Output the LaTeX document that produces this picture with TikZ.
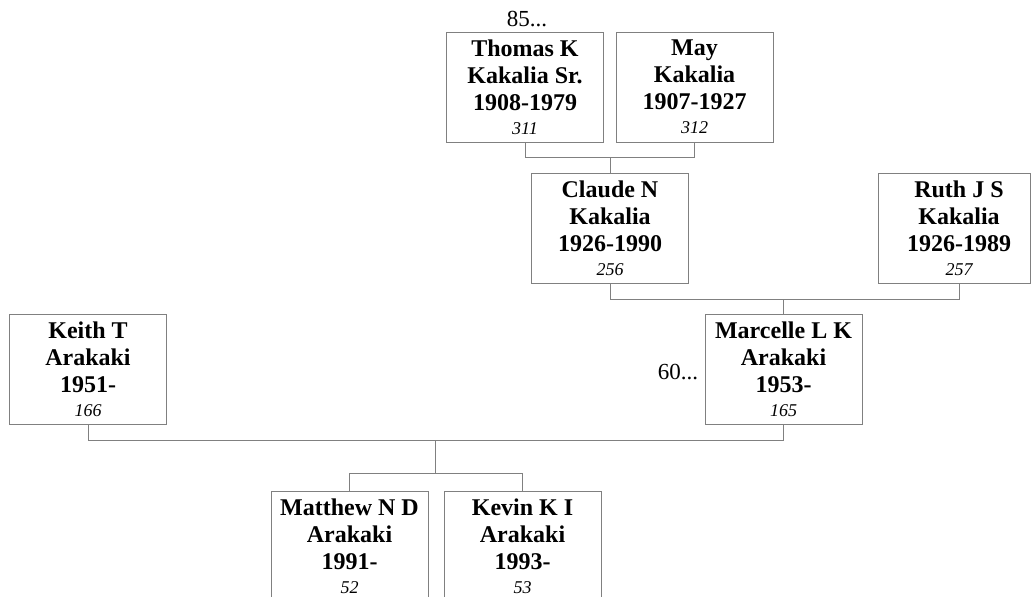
\documentclass[tikz,border=0pt]{standalone}
\usepackage{fontspec}
\setmainfont{Liberation Serif}
\usetikzlibrary{calc}
\newcommand\perstext[4]{#1\\#2\\#3\\[-3pt]{\fontsize{18}{22}\selectfont\mdseries\itshape #4}}
\tikzset{
  pbox/.style={draw=black!50, line width=1pt, minimum width=157, minimum height=110, inner sep=0pt, align=center, font=\fontsize{24}{27}\selectfont\bfseries},
  ptext/.style={inner sep=0pt, align=center, font=\fontsize{24}{27}\selectfont\bfseries},
  link/.style={draw=black!50, line width=1pt},
  more/.style={inner sep=0pt, font=\fontsize{23}{26}\selectfont}
}
\begin{document}
\begin{tikzpicture}[x=1pt,y=-1pt]
\useasboundingbox (0,0) rectangle (1031,597);
\node[pbox] (tho) at (525,87) {\perstext{Thomas K}{Kakalia Sr.}{1908-1979}{311}};
\node[pbox] (may) at (694.5,87) {\perstext{May}{Kakalia}{1907-1927}{312}};
\node[pbox] (cla) at (610,228) {\perstext{Claude N}{Kakalia}{1926-1990}{256}};
\node[pbox, minimum width=152] (rut) at (954,228) {};
\node[ptext] (ruttext) at ($(rut.center)+(5,0)$) {\perstext{Ruth J S}{Kakalia}{1926-1989}{257}};
\node[pbox] (kei) at (88,369.5) {\perstext{Keith T}{Arakaki}{1951-}{166}};
\node[pbox] (mar) at (783.5,369.5) {\perstext{Marcelle L K}{Arakaki}{1953-}{165}};
\node[pbox] (mat) at (349.5,546) {\perstext{Matthew N D}{Arakaki}{1991-}{52}};
\node[pbox] (kev) at (522.5,546) {\perstext{Kevin K I}{Arakaki}{1993-}{53}};
\node[more] (m85) at (527,19) {85...};
\node[more] (m60) at (678,372) {60...};
% Thomas + May -> Claude
\draw[link] (tho.south) -- (tho.south |- 0,157) -| (may.south);
\draw[link] (cla.north) -- (cla.north |- 0,157);
% Claude + Ruth -> Marcelle
\coordinate (rutdrop) at ($(rut.south)+(5,0)$);
\draw[link] (cla.south) -- (cla.south |- 0,299) -| (rutdrop);
\draw[link] (mar.north) -- (mar.north |- 0,299);
% Keith + Marcelle -> children
\draw[link] (kei.south) -- (kei.south |- 0,440) -| (mar.south);
\coordinate (fam) at ($(kei.south |- 0,440)!0.5!(mar.south |- 0,440)$);
\draw[link] (fam) -- (fam |- 0,473);
\draw[link] (mat.north) -- (mat.north |- 0,473) -| (kev.north);
\end{tikzpicture}
\end{document}
